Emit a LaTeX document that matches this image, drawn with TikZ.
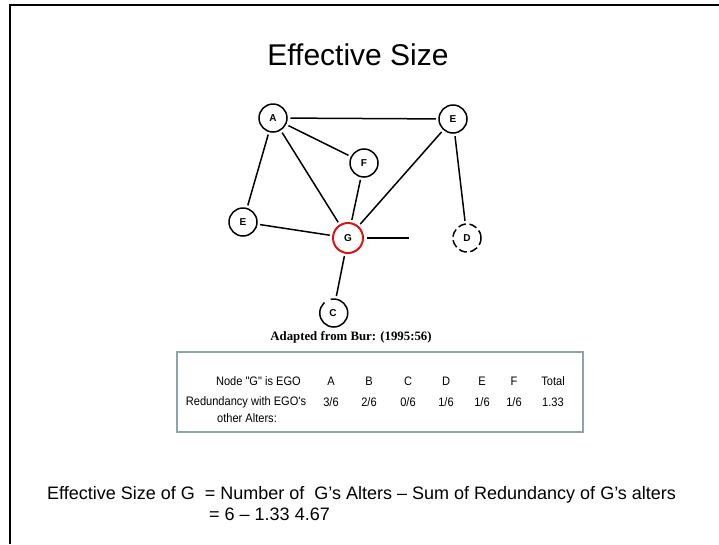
\documentclass[tikz,border=0pt]{standalone}
\usepackage{fontspec}
\setmainfont{Liberation Sans}[Ligatures=TeXOff]
\newfontfamily\tblfont{Liberation Sans}[Ligatures=TeXOff,FakeStretch=0.9]
\newfontfamily\capfont{Liberation Serif}
\begin{document}
\begin{tikzpicture}[x=1pt,y=-1pt,
  vert/.style={circle,draw,line width=1.5pt,minimum size=28pt,inner sep=0pt,
    font=\fontsize{10}{10}\selectfont\bfseries},
  ego/.style={vert,draw={rgb,255:red,220;green,20;blue,20},line width=2pt,minimum size=30pt},
  edge/.style={line width=1.5pt,shorten <=2.5pt,shorten >=2.5pt},
  txt/.style={inner sep=0pt,font=\tblfont\fontsize{12.3}{14}\selectfont},
  formula/.style={inner sep=0pt,anchor=west,font=\fontsize{18}{20}\selectfont},
  frame/.style={line width=2.5pt,black},
  tbox/.style={draw={rgb,255:red,140;green,165;blue,172},line width=1.6pt}]
\useasboundingbox (0,0) rectangle (719,544);
% slide frame (top and left edges)
\draw[frame] (10,544) -- (10,5) -- (719,5);
% title
\node[inner sep=0pt,font=\fontsize{30}{32}\selectfont] (title) at (358,55) {Effective Size};
% graph
\node[vert] (A) at (273,118) {A};
\node[vert] (Et) at (453,119) {E};
\node[vert] (F) at (364,163) {F};
\node[vert] (El) at (243,222) {E};
\node[ego] (G) at (348,238) {G};
\node[vert,draw=none] (D) at (467,238) {D};
\draw[line width=1.5pt,dash pattern=on 8pt off 3.5pt] (D) circle (14pt);
\node[vert,draw=none] (C) at (333,313) {C};
\draw[line width=1.5pt,dash pattern=on 25pt off 7pt on 100pt off 1pt] (C.east) arc (0:360:14pt);
\coordinate (Gend) at (409,238);
\draw[edge] (A) -- (Et);
\draw[edge] (A) -- (F);
\draw[edge] (A) -- (G);
\draw[edge] (A) -- (El);
\draw[edge] (F) -- (G);
\draw[edge] (Et) -- (G);
\draw[edge] (Et) -- (D);
\draw[edge] (El) -- (G);
\draw[edge,shorten >=0pt] (G) -- (Gend);
\draw[edge] (G) -- (C);
% caption
\node[inner sep=0pt,font=\capfont\fontsize{12.8}{14}\selectfont\bfseries] (cap) at (351,337) {Adapted from Bur: (1995:56)};
% table box
\draw[tbox] (177,352) rectangle (583,432);
\node[txt,anchor=east] (h0) at (301,381) {Node "G" is EGO};
\node[txt] (hA) at (331,381) {A};
\node[txt] (hB) at (369,381) {B};
\node[txt] (hC) at (408,381) {C};
\node[txt] (hD) at (446,381) {D};
\node[txt] (hE) at (482,381) {E};
\node[txt] (hF) at (514,381) {F};
\node[txt] (hT) at (553,381) {Total};
\node[txt] (r0) at (246,402) {Redundancy with EGO's};
\node[txt] (r1) at (247,418) {other Alters:};
\node[txt] (vA) at (331,402) {3/6};
\node[txt] (vB) at (369,402) {2/6};
\node[txt] (vC) at (408,402) {0/6};
\node[txt] (vD) at (446,402) {1/6};
\node[txt] (vE) at (482,402) {1/6};
\node[txt] (vF) at (514,402) {1/6};
\node[txt] (vT) at (553,402) {1.33};
% formula
\node[formula] (f1) at (47,495)
  {Effective Size of G\ \ = Number of\ \ G’s Alters – Sum of Redundancy of G’s alters};
\node[formula] (f2) at (209,514)
  {= 6 – 1.33 4.67};
\end{tikzpicture}
\end{document}
